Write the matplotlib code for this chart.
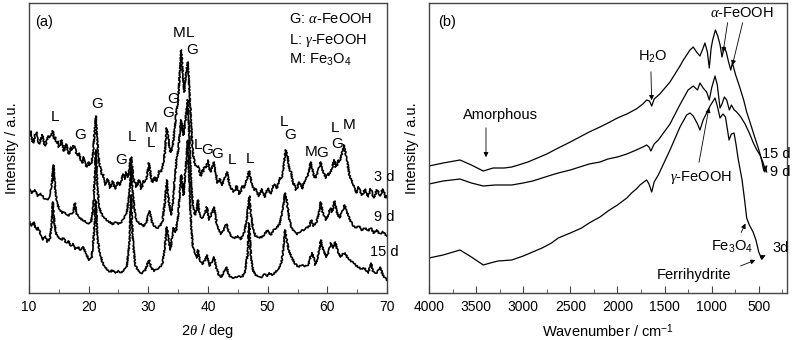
import matplotlib
matplotlib.use("Agg")
import matplotlib.pyplot as plt
import numpy as np

plt.rcParams["font.family"] = ["Liberation Sans", "DejaVu Sans"]
plt.rcParams["mathtext.fontset"] = "custom"
plt.rcParams["mathtext.rm"] = "Liberation Sans"
plt.rcParams["mathtext.it"] = "Liberation Serif:italic"
plt.rcParams["mathtext.bf"] = "Liberation Sans:bold"

# ---------------- XRD patterns (2theta in deg, intensity in a.u., stacked) ----------------
tt_3d = [10.0, 10.25, 10.5, 10.75, 11.0, 11.25, 11.5, 11.75, 12.0, 12.25, 12.5, 12.75, 13.0, 13.25,
         13.5, 13.75, 14.0, 14.2, 14.4, 14.6, 14.8, 15.0, 15.2, 15.4, 15.6, 15.8, 16.0, 16.2, 16.4,
         16.6, 16.8, 17.0, 17.2, 17.45, 17.7, 17.95, 18.2, 18.4, 18.6, 18.8, 19.0, 19.2, 19.4, 19.6,
         19.8, 20.0, 20.2, 20.4, 20.6, 20.9, 21.2, 21.5, 21.8, 22.0, 22.2, 22.4, 22.6, 22.8, 23.0,
         23.2, 23.4, 23.6, 23.8, 24.0, 24.2, 24.4, 24.6, 24.8, 25.0, 25.25, 25.5, 25.75, 26.0, 26.15,
         26.3, 26.45, 26.6, 26.9, 27.1, 27.4, 27.6, 27.8, 28.0, 28.2, 28.4, 28.6, 28.8, 29.0, 29.2,
         29.4, 29.6, 29.8, 30.1, 30.4, 30.6, 30.8, 31.0, 31.2, 31.4, 31.6, 31.8, 32.0, 32.2, 32.4,
         32.6, 32.8, 33.1, 33.4, 33.6, 33.8, 34.1, 34.4, 34.7, 35.0, 35.3, 35.5, 35.8, 36.0, 36.3,
         36.6, 36.9, 37.2, 37.5, 37.8, 38.1, 38.4, 38.6, 38.8, 39.0, 39.2, 39.4, 39.6, 39.8, 40.0,
         40.2, 40.4, 40.7, 41.0, 41.2, 41.4, 41.6, 41.8, 42.0, 42.2, 42.4, 42.6, 42.9, 43.2, 43.4,
         43.6, 43.8, 44.0, 44.25, 44.5, 44.75, 45.0, 45.25, 45.5, 45.75, 46.0, 46.25, 46.5, 46.7, 46.9,
         47.1, 47.3, 47.55, 47.8, 48.05, 48.3, 48.55, 48.8, 49.05, 49.3, 49.55, 49.8, 50.05, 50.3, 50.55,
         50.8, 51.05, 51.3, 51.55, 51.8, 52.05, 52.3, 52.5, 52.7, 53.0, 53.3, 53.5, 53.7, 53.9, 54.1,
         54.3, 54.5, 54.75, 55.0, 55.25, 55.5, 55.75, 56.0, 56.25, 56.5, 56.75, 57.0, 57.2, 57.5, 57.75,
         58.0, 58.25, 58.5, 58.7, 58.9, 59.1, 59.3, 59.55, 59.8, 60.05, 60.3, 60.55, 60.8, 61.0, 61.2,
         61.4, 61.6, 61.8, 62.0, 62.2, 62.4, 62.6, 62.8, 63.1, 63.3, 63.5, 63.75, 64.0, 64.25, 64.5,
         64.75, 65.0, 65.25, 65.5, 65.75, 66.0, 66.25, 66.5, 66.75, 67.0, 67.25, 67.5, 67.75, 68.0,
         68.25, 68.5, 68.75, 69.0, 69.25, 69.5, 69.75, 70.0]
int_3d = [157, 162, 153, 150, 158, 161, 152, 149, 155, 158, 150, 147, 153, 157,
          156, 158, 162, 154, 156, 150, 152, 146, 148, 153, 150, 142, 144, 149, 146,
          139, 140, 146, 143, 147, 147, 139, 138, 140, 135, 130, 131, 136, 133, 126,
          127, 131, 128, 129, 135, 153, 177, 148, 128, 126, 118, 119, 113, 108, 109,
          114, 111, 105, 107, 112, 109, 104, 106, 111, 110, 108, 113, 119, 117, 114,
          121, 118, 116, 128, 136, 121, 112, 111, 106, 108, 113, 110, 104, 107, 112,
          111, 113, 118, 130, 118, 112, 111, 116, 113, 112, 117, 122, 121, 122, 128,
          133, 143, 165, 153, 142, 141, 148, 165, 181, 193, 223, 243, 218, 201, 218,
          231, 203, 165, 138, 129, 126, 127, 120, 117, 123, 121, 126, 125, 128, 133,
          125, 121, 125, 131, 122, 117, 110, 111, 114, 109, 108, 113, 116, 121, 114,
          110, 104, 105, 101, 102, 107, 104, 99, 101, 107, 105, 110, 113, 118, 122,
          116, 111, 106, 103, 104, 99, 97, 101, 104, 98, 96, 102, 105, 100, 99,
          105, 109, 107, 105, 110, 115, 115, 119, 128, 143, 138, 128, 123, 121, 115,
          109, 109, 103, 106, 111, 108, 104, 109, 113, 115, 118, 125, 131, 123, 117,
          115, 119, 123, 127, 131, 125, 121, 118, 115, 120, 118, 121, 125, 130, 133,
          126, 127, 133, 131, 134, 138, 143, 148, 138, 133, 125, 117, 113, 110, 106,
          100, 101, 106, 103, 98, 99, 104, 102, 96, 99, 104, 101, 95, 98,
          103, 102, 97, 99, 104, 101, 95, 97]

tt_9d = [10.0, 10.5, 11.0, 11.5, 12.0, 12.5, 13.0, 13.5, 13.8, 14.1, 14.4, 14.8, 15.2, 15.6, 16.0,
         16.5, 17.0, 17.4, 17.7, 18.0, 18.5, 19.0, 19.5, 20.0, 20.4, 20.8, 21.2, 21.5, 21.8, 22.2,
         22.6, 23.0, 23.5, 24.0, 24.5, 25.0, 25.5, 26.0, 26.4, 26.8, 27.1, 27.4, 27.8, 28.2, 28.7,
         29.2, 29.7, 30.2, 30.6, 31.0, 31.5, 32.0, 32.4, 32.8, 33.1, 33.4, 33.8, 34.1, 34.4, 34.7,
         35.0, 35.5, 35.9, 36.3, 36.6, 36.9, 37.2, 37.5, 37.8, 38.1, 38.3, 38.6, 39.0, 39.4, 39.8,
         40.2, 40.6, 41.0, 41.4, 41.8, 42.2, 42.6, 43.1, 43.5, 44.0, 44.5, 45.0, 45.5, 46.0, 46.5,
         46.9, 47.2, 47.6, 48.0, 48.5, 49.0, 49.5, 50.0, 50.5, 51.0, 51.5, 52.0, 52.5, 52.9, 53.2,
         53.6, 54.0, 54.5, 55.0, 55.5, 56.0, 56.5, 57.0, 57.3, 57.7, 58.2, 58.6, 58.9, 59.3, 59.8,
         60.2, 60.5, 60.8, 61.2, 61.6, 62.0, 62.5, 62.9, 63.3, 63.8, 64.3, 64.8, 65.3, 65.8, 66.3,
         66.8, 67.3, 67.8, 68.3, 68.8, 69.3, 70.0]
int_9d = [105, 100, 103, 97, 99, 95, 93, 97, 108, 128, 103, 88, 83, 80, 81,
          77, 79, 81, 90, 79, 75, 73, 71, 69, 71, 88, 143, 103, 85, 79,
          75, 73, 71, 69, 71, 69, 71, 75, 81, 98, 126, 98, 78, 71, 69,
          67, 71, 82, 71, 67, 65, 67, 73, 93, 113, 93, 78, 88, 113, 133,
          143, 173, 158, 178, 193, 153, 108, 88, 78, 83, 93, 78, 75, 78, 86,
          73, 79, 86, 71, 63, 59, 63, 69, 61, 56, 55, 57, 54, 59, 73,
          97, 78, 63, 57, 55, 56, 59, 63, 58, 63, 65, 69, 83, 100, 93,
          75, 65, 61, 59, 62, 63, 65, 67, 73, 67, 71, 81, 91, 78, 73,
          79, 85, 81, 92, 81, 75, 81, 88, 81, 73, 68, 65, 67, 63, 65,
          62, 65, 60, 63, 59, 61, 57]

tt_15d = [10.0, 10.4, 10.8, 11.2, 11.6, 12.0, 12.3, 12.7, 13.1, 13.5, 13.8, 14.0, 14.3, 14.6, 15.0,
          15.4, 15.8, 16.2, 16.6, 17.0, 17.4, 17.8, 18.2, 18.6, 19.1, 19.5, 20.1, 20.5, 20.8, 21.2,
          21.5, 21.9, 22.3, 22.8, 23.2, 23.6, 24.0, 24.5, 25.0, 25.5, 26.0, 26.4, 26.8, 27.1, 27.4,
          27.8, 28.2, 28.6, 29.0, 29.5, 30.1, 30.5, 31.0, 31.5, 32.0, 32.4, 32.8, 33.1, 33.4, 33.7,
          34.2, 34.6, 35.0, 35.5, 35.9, 36.3, 36.6, 36.9, 37.2, 37.5, 37.8, 38.1, 38.3, 38.7, 39.1,
          39.5, 39.8, 40.2, 40.6, 41.0, 41.4, 41.8, 42.2, 42.6, 43.1, 43.5, 44.0, 44.5, 45.0, 45.7,
          46.2, 46.6, 46.9, 47.2, 47.5, 48.0, 48.5, 49.0, 49.5, 50.0, 50.3, 50.8, 51.3, 51.8, 52.3,
          52.6, 52.9, 53.2, 53.6, 54.0, 54.5, 55.1, 55.6, 56.2, 56.8, 57.2, 57.5, 58.0, 58.5, 58.9,
          59.3, 59.9, 60.3, 60.6, 61.0, 61.3, 61.7, 62.2, 62.6, 63.0, 63.4, 63.7, 64.2, 64.7, 65.2,
          65.7, 66.2, 66.6, 66.9, 67.3, 67.7, 68.3, 68.8, 69.3, 69.7, 70.0]
int_15d = [73, 67, 71, 63, 65, 58, 53, 57, 51, 55, 68, 91, 68, 58, 56,
           53, 55, 50, 52, 47, 49, 44, 46, 43, 46, 40, 33, 35, 53, 93,
           53, 40, 31, 25, 23, 21, 23, 20, 22, 20, 23, 27, 48, 98, 53,
           28, 23, 21, 20, 23, 33, 25, 22, 24, 26, 31, 48, 66, 53, 43,
           65, 61, 78, 118, 98, 128, 153, 108, 63, 45, 41, 35, 43, 31, 29,
           33, 38, 27, 31, 36, 25, 18, 16, 20, 26, 18, 15, 15, 17, 16,
           21, 38, 70, 38, 23, 18, 16, 16, 19, 17, 20, 18, 21, 23, 31,
           43, 63, 53, 41, 36, 30, 26, 28, 27, 28, 37, 40, 28, 38, 53,
           43, 36, 43, 50, 45, 51, 43, 36, 39, 40, 35, 33, 31, 28, 26,
           24, 25, 22, 20, 30, 21, 20, 26, 18, 15, 13]

# ---------------- FTIR spectra (wavenumber in cm-1, transmittance in a.u., stacked) ----------------
wn_15d = [4000, 3850, 3671, 3550, 3424, 3320, 3200, 3122, 3050, 2950, 2850, 2750, 2628, 2500, 2400,
          2300, 2185, 2100, 2000, 1900, 1800, 1730, 1690, 1660, 1636, 1610, 1550, 1442, 1336, 1300,
          1230, 1195, 1160, 1124, 1090, 1071, 1045, 1025, 1005, 989, 960, 935, 910, 890, 865,
          845, 820, 797, 780, 765, 745, 720, 699, 660, 628, 590, 557, 505, 480, 470, 455,
          445, 435, 425, 415]
tr_15d = [127, 130, 133, 128, 122, 125, 125, 126, 128, 131, 135, 139, 145, 151, 156,
          161, 166, 170, 175, 179, 184, 189, 193, 192, 187, 194, 199, 211, 227, 233,
          243, 246, 241, 237, 245, 250, 241, 225, 245, 253, 263, 257, 248, 236, 246,
          241, 231, 223, 230, 225, 218, 211, 205, 193, 181, 170, 160, 145, 137, 133, 126,
          122, 127, 124, 127]

wn_9d = [4000, 3850, 3671, 3550, 3424, 3300, 3122, 3000, 2900, 2800, 2700, 2628, 2500, 2400, 2300,
         2185, 2100, 2000, 1900, 1800, 1730, 1690, 1665, 1645, 1610, 1566, 1442, 1338, 1250, 1195,
         1150, 1124, 1090, 1053, 1025, 1000, 964, 940, 911, 890, 865, 840, 812, 790, 760,
         734, 690, 645, 600, 557, 520, 487, 452, 435, 425, 415]
tr_9d = [109, 112, 114, 110, 107, 108, 108, 110, 112, 115, 118, 120, 123, 126, 129,
         131, 134, 136, 139, 143, 146, 148, 146, 142, 149, 153, 169, 188, 203, 207,
         203, 210, 205, 201, 193, 205, 217, 208, 185, 189, 196, 193, 183, 188, 183,
         181, 176, 169, 160, 150, 143, 138, 130, 121, 125, 121]

wn_3d = [4000, 3850, 3671, 3550, 3424, 3350, 3267, 3122, 3000, 2900, 2800, 2700, 2628, 2500, 2380,
         2300, 2185, 2100, 2000, 1900, 1850, 1800, 1760, 1720, 1690, 1665, 1636, 1610, 1566, 1442,
         1336, 1265, 1230, 1195, 1150, 1124, 1090, 1053, 1017, 990, 964, 940, 911, 880, 853,
         815, 790, 762, 740, 720, 677, 650, 628, 600, 560, 530, 500, 469]
tr_3d = [35, 38, 43, 36, 28, 30, 32, 33, 37, 41, 45, 50, 55, 60, 65,
         70, 76, 82, 88, 95, 100, 104, 108, 111, 113, 109, 101, 111, 118, 143,
         166, 178, 180, 177, 169, 163, 173, 180, 187, 191, 195, 187, 175, 179, 176,
         153, 159, 160, 148, 135, 113, 93, 75, 68, 61, 53, 41, 34]

# Peak assignments for the XRD panel: (label, 2theta, height)
xrd_labels = [("L", 14.36, 176), ("G", 18.55, 158), ("G", 21.48, 189), ("G", 25.5, 133),
              ("L", 27.26, 156), ("M", 30.53, 165), ("L", 30.53, 150), ("G", 33.3, 180),
              ("G", 34.13, 194), ("M", 35.2, 260), ("L", 37.05, 260), ("G", 37.4, 243),
              ("L", 38.3, 148), ("G", 39.85, 143), ("G", 41.6, 139), ("L", 44.07, 133),
              ("L", 47.04, 134), ("L", 52.7, 171), ("G", 53.8, 158), ("M", 57.2, 141),
              ("G", 59.2, 140), ("L", 61.28, 165), ("G", 61.57, 149), ("M", 63.6, 168)]
xrd_days = [("3 d", 67.8, 116), ("9 d", 67.8, 76), ("15 d", 67.15, 41)]

fig = plt.figure(figsize=(8.0, 3.4), dpi=100)
ax1 = fig.add_axes([29 / 800, 47 / 340, 358 / 800, 290 / 340])
ax2 = fig.add_axes([429 / 800, 47 / 340, 358 / 800, 290 / 340])

frame_col = "#444444"
for ax in (ax1, ax2):
    for s in ax.spines.values():
        s.set_color(frame_col)
        s.set_linewidth(1.0)
    ax.set_yticks([])
    ax.tick_params(axis="x", which="both", direction="in", top=False, labelsize=10,
                   color=frame_col, pad=5)
    ax.tick_params(axis="x", which="major", length=5)
    ax.tick_params(axis="x", which="minor", length=3)
    ax.set_ylabel("Intensity / a.u.", fontsize=10.5, labelpad=7)

# ----- (a) XRD -----
for tt, it in ((tt_3d, int_3d), (tt_9d, int_9d), (tt_15d, int_15d)):
    ln, = ax1.plot(tt, it, color="black", lw=1.2)
    # counting-statistics texture of the raw diffractograms
    ln.set_sketch_params(scale=0.7, length=2.0, randomness=2.0)
ax1.set_xlim(10, 70)
ax1.set_ylim(0, 290)
ax1.set_xticks(np.arange(10, 71, 10))
ax1.set_xticks(np.arange(15, 70, 10), minor=True)
ax1.set_xlabel(r"2$\it{\theta}$ / deg", fontsize=10.5, labelpad=6)
ax1.text(0.018, 0.96, "(a)", transform=ax1.transAxes, fontsize=10.5, va="top", ha="left")
ax1.text(0.725, 0.97, r"G: $\alpha$-FeOOH", transform=ax1.transAxes, fontsize=10.5, va="top")
ax1.text(0.725, 0.90, r"L: $\gamma$-FeOOH", transform=ax1.transAxes, fontsize=10.5, va="top")
ax1.text(0.725, 0.83, r"M: Fe$_3$O$_4$", transform=ax1.transAxes, fontsize=10.5, va="top")
for lab, x, y in xrd_labels:
    ax1.text(x, y, lab, fontsize=11, ha="center", va="center")
for lab, x, y in xrd_days:
    ax1.text(x, y, lab, fontsize=10.5, ha="left", va="center")

# ----- (b) FTIR -----
for wn, tr in ((wn_15d, tr_15d), (wn_9d, tr_9d), (wn_3d, tr_3d)):
    ax2.plot(wn, tr, color="black", lw=0.9)
ax2.set_xlim(4000, 200)
ax2.set_ylim(0, 290)
ax2.set_xticks(np.arange(4000, 499, -500))
ax2.set_xticks(np.arange(3750, 200, -500), minor=True)
ax2.set_xlabel(r"Wavenumber / cm$^{-1}$", fontsize=10.5, labelpad=6)
ax2.text(0.025, 0.96, "(b)", transform=ax2.transAxes, fontsize=10.5, va="top", ha="left")

arrow = dict(arrowstyle="-|>", color="black", lw=0.6, mutation_scale=7)
ax2.text(3241, 178, "Amorphous", fontsize=10.5, ha="center", va="center")
ax2.annotate("", xy=(3395, 133), xytext=(3395, 168), arrowprops=arrow)
ax2.text(1622, 236, r"H$_2$O", fontsize=10.5, ha="center", va="center")
ax2.annotate("", xy=(1636, 190), xytext=(1645, 224), arrowprops=arrow)
ax2.text(678, 280, r"$\alpha$-FeOOH", fontsize=10.5, ha="center", va="center")
ax2.annotate("", xy=(883, 238), xytext=(826, 273), arrowprops=arrow)
ax2.annotate("", xy=(787, 225), xytext=(664, 273), arrowprops=arrow)
ax2.text(1113, 115, r"$\gamma$-FeOOH", fontsize=10.5, ha="center", va="center")
ax2.annotate("", xy=(1023, 188), xytext=(1139, 128), arrowprops=arrow)
ax2.text(787, 46, r"Fe$_3$O$_4$", fontsize=10.5, ha="center", va="center")
ax2.annotate("", xy=(628, 72), xytext=(699, 58), arrowprops=arrow)
ax2.text(1182, 18, "Ferrihydrite", fontsize=10.5, ha="center", va="center")
ax2.annotate("", xy=(508, 34), xytext=(720, 26), arrowprops=arrow)
ax2.annotate("", xy=(400, 39), xytext=(508, 34), arrowprops=arrow)
ax2.text(359, 45, "3d", fontsize=10.5, ha="left", va="center")
ax2.text(462, 139, "15 d", fontsize=10.5, ha="left", va="center")
ax2.text(380, 121, "9 d", fontsize=10.5, ha="left", va="center")

fig.savefig("out.png", dpi=100)
